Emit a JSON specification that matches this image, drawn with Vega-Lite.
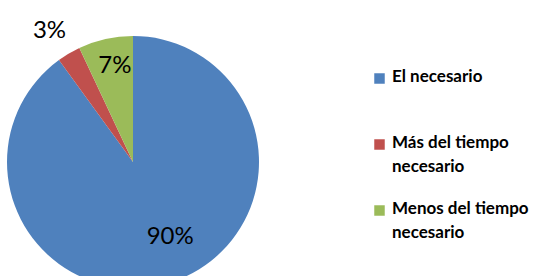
{
  "$schema": "https://vega.github.io/schema/vega-lite/v6.json",
  "width": 266,
  "height": 308,
  "padding": {"left": 0, "top": 0, "right": 0, "bottom": 0},
  "background": "white",
  "config": {"view": {"stroke": null}, "font": "Lato"},
  "data": {"values": [
    {"cat": "El necesario", "pct": 90, "idx": 1, "label": "90%"},
    {"cat": "Más del tiempo necesario", "pct": 3, "idx": 2, "label": "3%"},
    {"cat": "Menos del tiempo necesario", "pct": 7, "idx": 3, "label": "7%"}
  ]},
  "encoding": {
    "theta": {"field": "pct", "type": "quantitative", "stack": true},
    "order": {"field": "idx", "type": "quantitative"},
    "color": {
      "field": "cat", "type": "nominal",
      "scale": {"domain": ["El necesario", "Más del tiempo necesario", "Menos del tiempo necesario"], "range": ["#4F81BD", "#C0504D", "#9BBB59"]},
      "legend": {
        "title": null, "orient": "none", "legendX": 371, "legendY": 62,
        "symbolType": "square", "symbolSize": 110, "symbolStrokeWidth": 0,
        "labelFont": "Lato", "labelFontSize": 17, "labelFontWeight": "bold", "labelColor": "#000000",
        "labelLimit": 300, "labelOffset": 4, "rowPadding": 24, "labelBaseline": "top",
        "labelExpr": "datum.value === 'El necesario' ? [datum.value, ''] : split(replace(datum.value, ' necesario', '|necesario'), '|')",
        "encode": {"labels": {"update": {"lineHeight": {"value": 24}, "dy": {"value": -10}}}}
      }
    }
  },
  "layer": [
    {"mark": {"type": "arc", "outerRadius": 126, "strokeWidth": 0}},
    {"mark": {"type": "text", "radius": 84, "thetaOffset": -0.145, "fontSize": 24, "font": "Lato", "color": "#000000"},
     "encoding": {"text": {"condition": {"test": "datum.idx === 1", "field": "label"}, "value": ""}, "color": {"value": "#000000"}}},
    {"mark": {"type": "text", "radius": 155, "thetaOffset": -0.035, "fontSize": 24, "font": "Lato", "color": "#000000"},
     "encoding": {"text": {"condition": {"test": "datum.idx === 2", "field": "label"}, "value": ""}, "color": {"value": "#000000"}}},
    {"mark": {"type": "text", "radius": 98, "thetaOffset": 0.033, "fontSize": 24, "font": "Lato", "color": "#000000"},
     "encoding": {"text": {"condition": {"test": "datum.idx === 3", "field": "label"}, "value": ""}, "color": {"value": "#000000"}}}
  ]
}
